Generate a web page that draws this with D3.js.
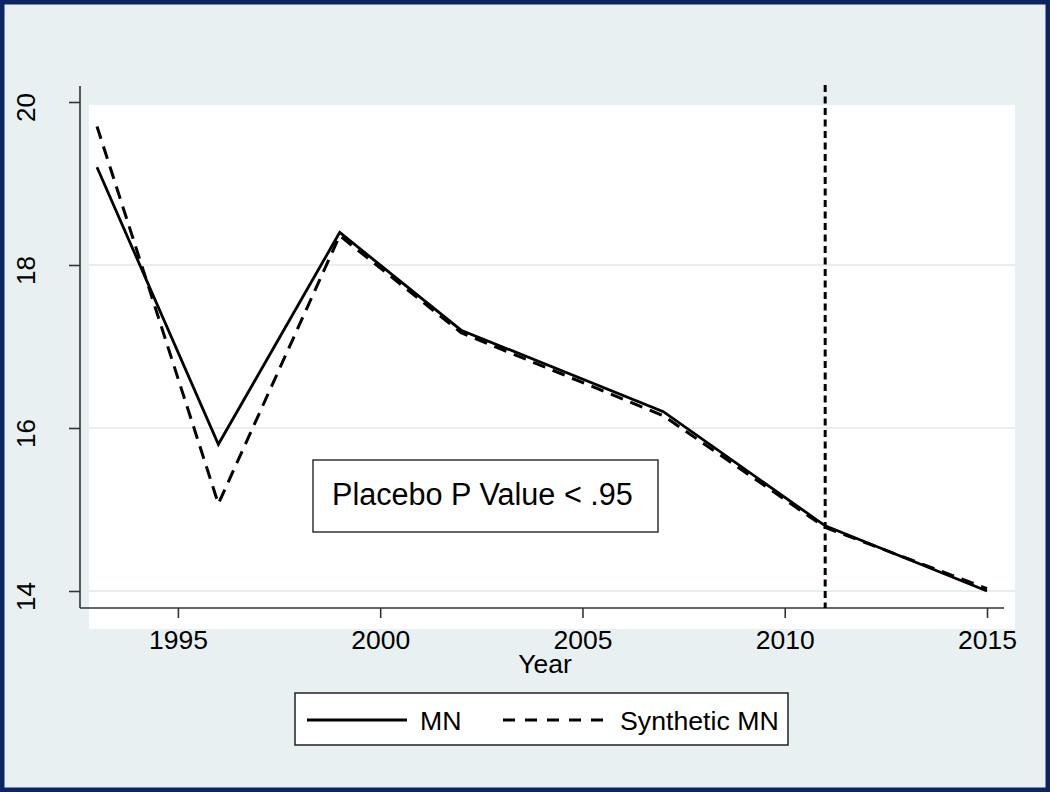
<!DOCTYPE html>
<html>
<head>
<meta charset="utf-8">
<script src="https://cdn.jsdelivr.net/npm/d3@7"></script>
<style>
  html, body { margin: 0; padding: 0; background: #ffffff; }
  svg { display: block; }
  text { font-family: "Liberation Sans", Arial, sans-serif; fill: #000; }
</style>
</head>
<body>
<script>
// ---- Data ----
const years = [1993, 1996, 1999, 2002, 2007, 2011, 2015];
const mnValues = [19.2, 15.8, 18.4, 17.2, 16.2, 14.8, 14.0];
const synthValues = [19.7, 15.07, 18.36, 17.17, 16.15, 14.78, 14.03];
const xTickValues = [1995, 2000, 2005, 2010, 2015];
const yTickValues = [14, 16, 18, 20];
const treatmentYear = [2011];
const seriesNames = ["MN", "Synthetic MN"];
const annotationText = ["Placebo P Value < .95"];
const xTitle = "Year";

const W = 1050, H = 792;
const svg = d3.select("body").append("svg").attr("width", W).attr("height", H);

// Background and border
svg.append("rect").attr("x", 0).attr("y", 0).attr("width", W).attr("height", H).attr("fill", "#0c2562");
svg.append("rect").attr("x", 4.5).attr("y", 4.5).attr("width", W - 9).attr("height", H - 9).attr("fill", "#e8f0f2");

// Plot region (white)
svg.append("rect").attr("x", 89).attr("y", 105).attr("width", 1015 - 89).attr("height", 629 - 105).attr("fill", "#ffffff");

const x = d3.scaleLinear().domain([1993, 2015]).range([97, 987]);
const y = d3.scaleLinear().domain([14, 20]).range([591, 102]);

// Gridlines
svg.append("g").selectAll("line").data(yTickValues.filter(v => y(v) > 105))
  .join("line")
  .attr("x1", 89).attr("x2", 1015)
  .attr("y1", d => y(d)).attr("y2", d => y(d))
  .attr("stroke", "#e6eef1").attr("stroke-width", 2);

// Axes lines
svg.append("line").attr("x1", 80).attr("x2", 80).attr("y1", 86).attr("y2", 608)
  .attr("stroke", "#333").attr("stroke-width", 1.6);
svg.append("line").attr("x1", 80).attr("x2", 1004).attr("y1", 608).attr("y2", 608)
  .attr("stroke", "#333").attr("stroke-width", 1.6);

// Y axis ticks
const yAxis = d3.axisLeft(y).tickValues(yTickValues).tickSize(11).tickPadding(0).tickFormat(d3.format("d"));
const gy = svg.append("g").attr("transform", "translate(80,0)").call(yAxis);
gy.select(".domain").remove();
gy.selectAll(".tick line").attr("stroke", "#333").attr("stroke-width", 1.6);
gy.selectAll(".tick text")
  .attr("font-size", 26).attr("text-anchor", "middle")
  .attr("x", 0).attr("dy", null).attr("y", 0)
  .attr("transform", "translate(-54,5) rotate(-90)")
  .attr("dominant-baseline", "central");

// X axis ticks
const xAxis = d3.axisBottom(x).tickValues(xTickValues).tickSize(10).tickPadding(0).tickFormat(d3.format("d"));
const gx = svg.append("g").attr("transform", "translate(0,608)").call(xAxis);
gx.select(".domain").remove();
gx.selectAll(".tick line").attr("stroke", "#333").attr("stroke-width", 1.6);
gx.selectAll(".tick text").attr("font-size", 26.5).attr("dy", null).attr("y", 41);

// X title
svg.append("text").attr("x", 545).attr("y", 673).attr("text-anchor", "middle")
  .attr("font-size", 26.5).text(xTitle);

// Treatment vertical line
svg.append("g").selectAll("line").data(treatmentYear).join("line")
  .attr("x1", d => x(d)).attr("x2", d => x(d))
  .attr("y1", 85).attr("y2", 608)
  .attr("stroke", "#000").attr("stroke-width", 3)
  .attr("stroke-dasharray", "7,4.5");

// Lines
const mnData = years.map((yr, i) => ({ yr, v: mnValues[i] }));
const synData = years.map((yr, i) => ({ yr, v: synthValues[i] }));
const line = d3.line().x(d => x(d.yr)).y(d => y(d.v));

svg.append("path").datum(synData).attr("d", line)
  .attr("fill", "none").attr("stroke", "#000").attr("stroke-width", 3)
  .attr("stroke-dasharray", "13,8");
svg.append("path").datum(mnData).attr("d", line)
  .attr("fill", "none").attr("stroke", "#000").attr("stroke-width", 2.8);

// Annotation box
svg.append("rect").attr("x", 313).attr("y", 460).attr("width", 345).attr("height", 72)
  .attr("fill", "#fff").attr("stroke", "#333").attr("stroke-width", 1.5);
svg.append("text").attr("x", 332).attr("y", 505).attr("font-size", 30.6).text(annotationText[0]);

// Legend
svg.append("rect").attr("x", 295).attr("y", 693).attr("width", 493).attr("height", 52)
  .attr("fill", "#fff").attr("stroke", "#222").attr("stroke-width", 1.5);
svg.append("line").attr("x1", 307).attr("x2", 407).attr("y1", 720).attr("y2", 720)
  .attr("stroke", "#000").attr("stroke-width", 3);
svg.append("text").attr("x", 420).attr("y", 730).attr("font-size", 26.7).text(seriesNames[0]);
svg.append("line").attr("x1", 503).attr("x2", 603).attr("y1", 720).attr("y2", 720)
  .attr("stroke", "#000").attr("stroke-width", 3).attr("stroke-dasharray", "12,10");
svg.append("text").attr("x", 620).attr("y", 730).attr("font-size", 26.7).text(seriesNames[1]);
</script>
</body>
</html>
